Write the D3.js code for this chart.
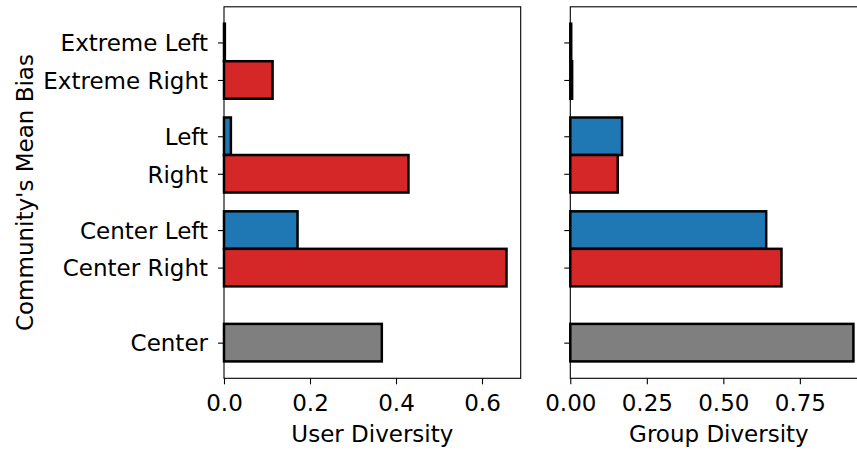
<!DOCTYPE html>
<html>
<head>
<meta charset="utf-8">
<script src="https://cdn.jsdelivr.net/npm/d3@7/dist/d3.min.js"></script>
<style>
  html, body { margin: 0; padding: 0; background: #fff; }
  svg { display: block; }
  text { font-family: "DejaVu Sans", sans-serif; fill: #000; }
</style>
</head>
<body>
<svg id="chart" width="857" height="450"></svg>
<script>
// Community bias categories, top to bottom
const categories = ["Extreme Left", "Extreme Right", "Left", "Right", "Center Left", "Center Right", "Center"];
// Bar colour per category (left-leaning blue, right-leaning red, center grey)
const categoryColors = ["#1f77b4", "#d62728", "#1f77b4", "#d62728", "#1f77b4", "#d62728", "#7f7f7f"];
// Mean user diversity per community bias
const userDiversity = [0.002, 0.113, 0.016, 0.429, 0.171, 0.657, 0.367];
// Mean group diversity per community bias
const groupDiversity = [0.003, 0.006, 0.169, 0.155, 0.640, 0.690, 0.925];
// Tick labels
const userTicks = ["0.0", "0.2", "0.4", "0.6"];
const groupTicks = ["0.00", "0.25", "0.50", "0.75"];

// Vertical slot of each category (pairs grouped, gaps between groups)
const slots = [0, 1, 2.5, 3.5, 5, 6, 8];

const svg = d3.select("#chart");
const FONT = 23;

const y = d3.scaleLinear().domain([-0.95, 8.95]).range([6.8, 378.3]);
const barH = y(1) - y(0);

function panel(values, ticks, x, title, showLabels) {
  const g = svg.append("g");
  const [x0, x1] = x.range();

  // bars
  g.selectAll("rect.bar")
    .data(values)
    .join("rect")
    .attr("class", "bar")
    .attr("x", x(0))
    .attr("y", (d, i) => y(slots[i]) - barH / 2)
    .attr("width", d => x(d) - x(0))
    .attr("height", barH)
    .attr("fill", (d, i) => categoryColors[i])
    .attr("stroke", "#000")
    .attr("stroke-width", 2.5);

  // frame
  g.append("rect")
    .attr("x", x0).attr("y", y.range()[0])
    .attr("width", x1 - x0).attr("height", y.range()[1] - y.range()[0])
    .attr("fill", "none").attr("stroke", "#000").attr("stroke-width", 1.1);

  // x axis
  const xAxis = d3.axisBottom(x)
    .tickValues(ticks.map(Number))
    .tickFormat((d, i) => ticks[i])
    .tickSize(6).tickPadding(10.5);
  const gx = g.append("g").attr("transform", `translate(0,${y.range()[1]})`).call(xAxis);
  gx.select(".domain").remove();
  gx.selectAll("line").attr("stroke", "#000").attr("stroke-width", 1.1);
  gx.selectAll("text").attr("font-size", FONT).attr("font-family", "DejaVu Sans").attr("fill", "#000");

  // y axis
  const yAxis = d3.axisLeft(y)
    .tickValues(slots)
    .tickFormat((d, i) => showLabels ? categories[i] : "")
    .tickSize(6).tickPadding(10);
  const gy = g.append("g").attr("transform", `translate(${x0},0)`).call(yAxis);
  gy.select(".domain").remove();
  gy.selectAll("line").attr("stroke", "#000").attr("stroke-width", 1.1);
  gy.selectAll("text").attr("font-size", FONT).attr("font-family", "DejaVu Sans")
    .attr("fill", "#000").attr("dy", "0.36em");

  // x title
  g.append("text")
    .attr("x", (x0 + x1) / 2).attr("y", 442)
    .attr("text-anchor", "middle").attr("font-size", FONT)
    .text(title);
}

const xUser = d3.scaleLinear().domain([0, 0.69]).range([224, 520.7]);
const xGroup = d3.scaleLinear().domain([0, 0.971]).range([570.3, 867.5]);

panel(userDiversity, userTicks, xUser, "User Diversity", true);
panel(groupDiversity, groupTicks, xGroup, "Group Diversity", false);

svg.append("text")
  .attr("transform", `translate(33,${(y.range()[0] + y.range()[1]) / 2}) rotate(-90)`)
  .attr("text-anchor", "middle").attr("font-size", FONT)
  .text("Community's Mean Bias");
</script>
</body>
</html>
